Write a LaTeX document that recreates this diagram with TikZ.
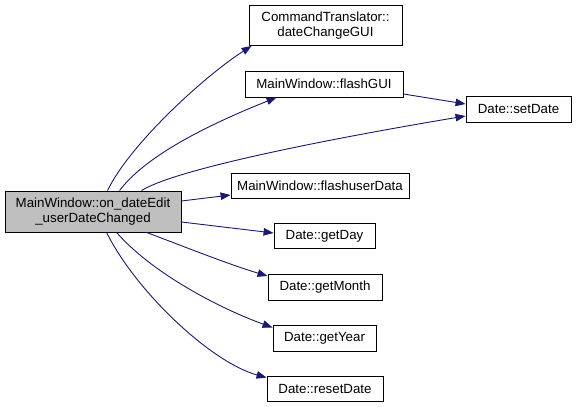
\documentclass[tikz,border=0pt]{standalone}
\usepackage{fontspec}
\setmainfont{Liberation Sans}
\usetikzlibrary{arrows.meta}
\definecolor{edgeblue}{RGB}{25,25,112}
\definecolor{mainfill}{RGB}{191,191,191}
\begin{document}
\begin{tikzpicture}[x=1pt,y=-1pt,
  fn/.style={draw=black,line width=0.9pt,fill=white,inner sep=0pt,align=center,
    font=\fontsize{13.3}{15}\selectfont},
  call/.style={draw=edgeblue,line width=0.9pt,-{Triangle[length=10pt,width=7.5pt]},
    edgeblue}]
\useasboundingbox (0,0) rectangle (576,407);
\node[fn,fill=mainfill,minimum width=176pt,minimum height=41pt] (main) at (93,211.5)
  {MainWindow::on\_dateEdit\\\_userDateChanged};
\node[fn,minimum width=153pt,minimum height=40pt] (cmd) at (325.5,25.5)
  {CommandTranslator::\\dateChangeGUI};
\node[fn,minimum width=158pt,minimum height=26pt] (fgui) at (324,84) {MainWindow::flashGUI};
\node[fn,minimum width=105pt,minimum height=26pt] (sd) at (518.5,109) {Date::setDate};
\node[fn,minimum width=178pt,minimum height=25pt] (fud) at (320,185.5) {MainWindow::flashuserData};
\node[fn,minimum width=101pt,minimum height=25pt] (gd) at (324.5,236) {Date::getDay};
\node[fn,minimum width=114pt,minimum height=26pt] (gm) at (325,287) {Date::getMonth};
\node[fn,minimum width=103pt,minimum height=26pt] (gy) at (324.5,338) {Date::getYear};
\node[fn,minimum width=116pt,minimum height=25pt] (rd) at (325,388.5) {Date::resetDate};

\draw[call] ([xshift=103pt]main.north west) .. controls +(22,-46) and +(-47,30) .. ([xshift=3pt]cmd.south west);
\draw[call] ([xshift=115pt]main.north west) .. controls +(30,-40) and +(-50,20) .. ([xshift=32pt]fgui.south west);
\draw[call] ([xshift=137pt]main.north west) .. controls +(40,-25) and +(-90,15) .. ([yshift=-7pt]sd.west);
\draw[call] ([yshift=-10pt]fgui.east) -- ([yshift=5pt]sd.west);
\draw[call] ([yshift=10.5pt]main.east) -- ([yshift=-9.5pt]fud.west);
\draw[call] ([yshift=-10.5pt]main.east) -- ([yshift=3pt]gd.west);
\draw[call] ([xshift=142pt]main.south west) .. controls +(40,15) and +(-40,-12) .. ([yshift=11pt]gm.west);
\draw[call] ([xshift=112pt]main.south west) .. controls +(35,40) and +(-55,-20) .. ([yshift=-3pt]gy.north west);
\draw[call] ([xshift=102pt]main.south west) .. controls +(30,60) and +(-55,-15) .. ([yshift=-2pt]rd.north west);
\end{tikzpicture}
\end{document}
